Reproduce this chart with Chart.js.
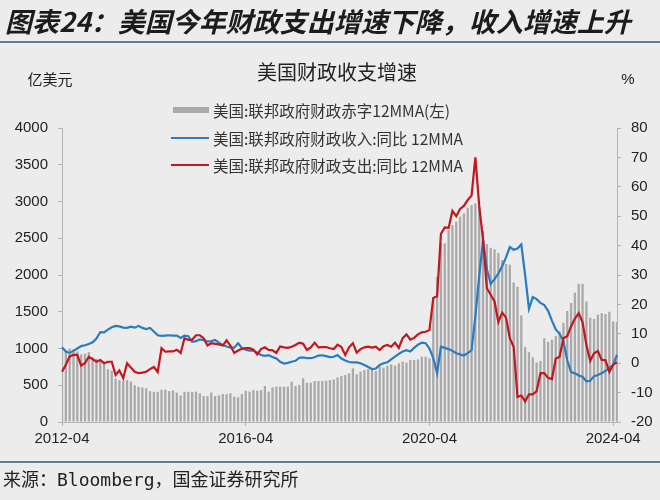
<!DOCTYPE html>
<html>
<head>
<meta charset="utf-8">
<script src="https://cdn.jsdelivr.net/npm/chart.js@4.4.1/dist/chart.umd.min.js"></script>
<style>
  html, body { margin: 0; padding: 0; background: #ececec; }
  #wrap { position: relative; width: 660px; height: 500px; overflow: hidden; background: #ececec; font-family: "Noto Sans CJK SC", sans-serif; }
  #chart { position: absolute; left: 0; top: 0; }
  .txt { position: absolute; white-space: nowrap; color: #222; line-height: 1; }
  #head { left: 5px; top: 3px; font-size: 27px; font-weight: bold; font-style: italic; line-height: 36px; color: #1c1c1c; }
  .rule { position: absolute; left: 0; width: 660px; height: 2px; background: #5f7f98; }
  #subtitle { left: 337px; top: 72px; font-size: 20px; transform: translate(-50%, -50%); }
  #unitL { left: 50px; top: 78px; font-size: 15px; transform: translate(-50%, -50%); }
  #unitR { left: 628px; top: 78px; font-size: 15px; font-family: "Liberation Sans", sans-serif; transform: translate(-50%, -50%); }
  #source { left: 3px; top: 480px; font-size: 18px; font-family: "DejaVu Sans Mono", "Noto Sans CJK SC", monospace; transform: translateY(-50%); }
</style>
</head>
<body>
<div id="wrap">
  <canvas id="chart" width="660" height="500"></canvas>
  <div class="txt" id="head">图表24：美国今年财政支出增速下降，收入增速上升</div>
  <div class="rule" style="top:41px"></div>
  <div class="txt" id="subtitle">美国财政收支增速</div>
  <div class="txt" id="unitL">亿美元</div>
  <div class="txt" id="unitR">%</div>
  <div class="rule" style="top:461px"></div>
  <div class="txt" id="source">来源：Bloomberg，国金证券研究所</div>
</div>
<script>
// monthly, 2012-04 .. 2024-05
const startYear = 2012, startMonth = 4, monthCount = 146;
const months = [];
for (let k = 0; k < monthCount; k++) {
  const m = startMonth - 1 + k;
  const y = startYear + Math.floor(m / 12);
  months.push(y + '-' + String(m % 12 + 1).padStart(2, '0'));
}
const xTickLabels = ['2012-04', '2016-04', '2020-04', '2024-04'];

// 美国:联邦政府财政赤字12MMA(左), 亿美元
const deficit = [
  1000, 980, 1000, 990, 960, 920, 930, 950, 880, 860,
  850, 820, 720, 700, 590, 570, 560, 570, 550, 500,
  480, 470, 460, 420, 410, 410, 440, 440, 420, 430,
  400, 360, 410, 410, 410, 413, 390, 355, 354, 400,
  354, 363, 381, 381, 390, 345, 336, 381, 426, 413,
  435, 426, 435, 490, 413, 472, 481, 481, 481, 481,
  549, 490, 503, 594, 535, 535, 558, 558, 558, 562,
  571, 580, 608, 626, 639, 662, 730, 649, 685, 707,
  721, 721, 694, 753, 739, 766, 785, 766, 798, 821,
  807, 844, 844, 850, 889, 889, 866, 1683, 1977, 2431,
  2431, 2612, 2680, 2726, 2794, 2839, 2916, 2952, 2975, 2930,
  2600, 2420, 2370, 2350, 2300, 2200, 2150, 2140, 1900, 1840,
  1450, 1020, 950, 880, 810, 830, 1140, 1090, 1120, 1170,
  1230, 1350, 1510, 1620, 1760, 1880, 1880, 1640, 1420, 1400,
  1460, 1480, 1470, 1500, 1370, 1360
];

// 美国:联邦政府财政收入:同比 12MMA, %
const revenueYoY = [
  5.4, 4.0, 3.5, 4.2, 5.0, 5.8, 6.1, 6.5, 7.1, 8.4,
  10.6, 10.5, 11.4, 12.2, 12.7, 12.5, 12.1, 12.0, 12.4, 12.1,
  12.7, 12.0, 11.6, 12.0, 10.8, 9.5, 9.3, 9.4, 9.5, 9.4,
  9.4, 8.6, 9.4, 9.2, 7.3, 7.5, 8.1, 7.8, 7.4, 7.5,
  7.9, 7.0, 6.2, 5.7, 5.3, 5.3, 6.8, 5.2, 4.6, 4.3,
  4.3, 3.6, 2.8, 2.5, 2.7, 2.1, 1.6, 0.5, -0.1, 0.1,
  0.5, 0.8, 1.8, 2.0, 1.7, 1.7, 2.0, 2.6, 2.7, 2.4,
  2.1, 2.2, 2.8, 1.6, 0.9, 0.4, 0.3, 0.3, 0.0, -0.6,
  -1.3, -2.0, -1.8, -0.6, 0.0, 0.3, 1.3, 2.2, 3.2, 4.0,
  4.4, 4.0, 5.2, 6.3, 7.0, 6.8, 5.0, 1.7, -3.4, 5.6,
  5.2, 4.8, 4.2, 3.4, 3.0, 2.6, 3.4, 4.4, 16.0, 29.5,
  42.0, 32.0, 27.0, 28.6, 30.5, 33.0, 36.0, 39.5, 38.6, 39.0,
  40.4, 30.0, 18.5, 22.5, 21.8, 20.5, 19.8, 17.8, 14.5, 11.5,
  10.0, 7.5, 1.0, -3.0, -3.4, -4.2, -4.6, -6.2, -6.0, -4.4,
  -4.0, -3.4, -2.6, -1.7, -0.6, 2.8
];

// 美国:联邦政府财政支出:同比 12MMA, %
const spendingYoY = [
  -2.9, -0.5, 2.3, 2.8, 2.8, -0.8, 0.0, 2.2, 1.4, 0.5,
  1.1, 0.0, 0.5, 0.5, -4.0, -2.5, -5.1, 0.0, -1.5, -2.9,
  -3.4, -3.2, -2.9, -2.0, -1.3, -3.0, 5.1, 3.9, 4.0, 4.0,
  4.6, 3.5, 8.5, 7.9, 8.0, 9.5, 9.5, 8.5, 6.0, 6.8,
  6.6, 6.4, 6.0, 7.8, 6.0, 3.5, 4.3, 4.9, 5.1, 5.1,
  4.6, 3.0, 4.8, 5.4, 4.5, 4.4, 3.5, 5.7, 5.4, 5.2,
  5.6, 6.2, 7.0, 6.6, 4.5, 5.4, 7.0, 5.4, 5.5, 5.5,
  5.1, 4.8, 6.3, 5.5, 2.8, 5.4, 6.8, 3.6, 4.8, 5.4,
  5.6, 5.3, 5.6, 4.5, 5.8, 6.2, 5.6, 7.0, 5.2, 8.5,
  9.8, 8.0, 8.6, 9.8, 10.5, 10.7, 11.3, 22.2, 22.8, 44.0,
  46.2, 46.0, 51.8, 50.0, 52.5, 53.5, 55.5, 57.0, 70.0, 53.5,
  42.0, 25.5, 23.3, 21.0, 14.0, 17.2, 15.5, 8.5, 5.6, -11.5,
  -11.0, -13.0, -10.6, -10.6, -9.5, -3.4, -3.4, -5.0, -5.4, 1.5,
  2.2, 8.5, 9.2, 12.5, 15.2, 17.0, 14.0, 6.2, 0.8, 3.4,
  4.1, 1.1, 1.0, -3.0, -0.5, 0.3
];

const axisGrey = '#b3b3b3';
const tickFont = { family: '"Liberation Sans", Arial, sans-serif', size: 15 };
const legendRows = [110, 138, 165];

// legend floats inside the plot area, so draw it by hand
const floatLegend = {
  id: 'floatLegend',
  afterDraw(chart) {
    const c = chart.ctx;
    c.save();
    c.font = '15.5px "Noto Sans CJK SC"';
    c.textBaseline = 'middle';
    chart.data.datasets.forEach((ds, i) => {
      const y = legendRows[i];
      if (ds.type === 'bar') {
        c.fillStyle = ds.backgroundColor;
        c.fillRect(173, y - 3, 36, 6);
      } else {
        c.strokeStyle = ds.borderColor;
        c.lineWidth = 2;
        c.beginPath();
        c.moveTo(171, y);
        c.lineTo(209, y);
        c.stroke();
      }
      c.fillStyle = '#333';
      c.fillText(ds.label, 213, y + 1);
    });
    c.restore();
  }
};

new Chart(document.getElementById('chart'), {
  data: {
    labels: months,
    datasets: [
      {
        type: 'bar',
        label: '美国:联邦政府财政赤字12MMA(左)',
        data: deficit,
        yAxisID: 'yL',
        backgroundColor: '#a9a9a9',
        barPercentage: 0.6,
        categoryPercentage: 1,
        order: 3
      },
      {
        type: 'line',
        label: '美国:联邦政府财政收入:同比 12MMA',
        data: revenueYoY,
        yAxisID: 'yR',
        borderColor: '#2a7bbf',
        borderWidth: 2.2,
        pointRadius: 0,
        order: 2
      },
      {
        type: 'line',
        label: '美国:联邦政府财政支出:同比 12MMA',
        data: spendingYoY,
        yAxisID: 'yR',
        borderColor: '#c3161d',
        borderWidth: 2.2,
        pointRadius: 0,
        order: 1
      }
    ]
  },
  options: {
    responsive: false,
    animation: false,
    devicePixelRatio: 1,
    layout: { padding: { top: 128, bottom: 38, left: 0, right: 0 } },
    plugins: { legend: { display: false }, tooltip: { enabled: false } },
    scales: {
      x: {
        type: 'category',
        offset: false,
        grid: {
          offset: false,
          drawOnChartArea: false,
          tickLength: 4,
          tickColor: ctx => xTickLabels.includes(months[ctx.index]) ? axisGrey : 'rgba(0,0,0,0)'
        },
        border: { color: axisGrey },
        ticks: {
          autoSkip: false,
          maxRotation: 0,
          padding: 4,
          font: tickFont,
          color: '#222',
          callback(v) {
            const l = this.getLabelForValue(v);
            return xTickLabels.includes(l) ? l : '';
          }
        },
        afterFit(s) { s.height = 40; }
      },
      yL: {
        position: 'left',
        min: 0,
        max: 4000,
        ticks: { stepSize: 500, padding: 10, font: tickFont, color: '#222', callback: v => String(v) },
        grid: { drawOnChartArea: false, tickLength: 4, color: axisGrey },
        border: { color: axisGrey },
        afterFit(s) { s.width = 62; }
      },
      yR: {
        position: 'right',
        min: -20,
        max: 80,
        ticks: { stepSize: 10, padding: 10, font: tickFont, color: '#222', callback: v => String(v) },
        grid: { drawOnChartArea: false, tickLength: 4, color: axisGrey },
        border: { color: axisGrey },
        afterFit(s) { s.width = 43; }
      }
    }
  },
  plugins: [floatLegend]
});
</script>
</body>
</html>
